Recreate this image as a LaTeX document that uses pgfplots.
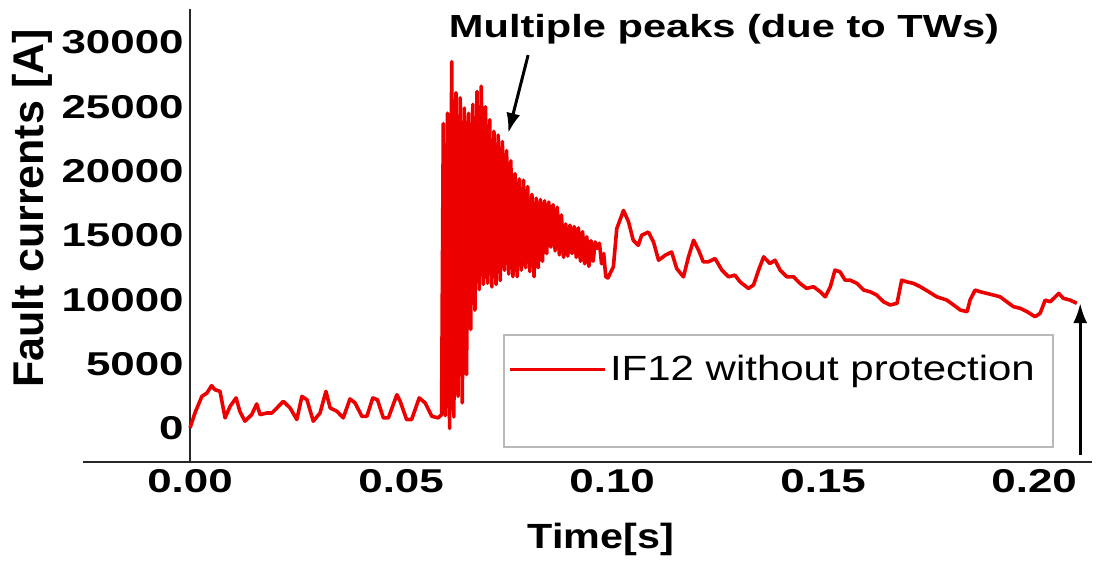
\documentclass[border=0pt]{standalone}
\usepackage{fontspec}
\setmainfont{Liberation Sans}
\usepackage{graphicx}
\usepackage{pgfplots}
\pgfplotsset{compat=1.18}
\usetikzlibrary{arrows.meta}
\definecolor{faultred}{RGB}{236,0,0}
\definecolor{boxgray}{RGB}{185,185,185}
\definecolor{axisgray}{RGB}{40,40,40}
% the source figure is stretched sideways, so the text is too
\newcommand{\tl}[1]{\scalebox{1.33}[1]{#1}}

\begin{document}
\begin{tikzpicture}
\begin{axis}[
    at={(0,0)}, anchor=south west,
    scale only axis, width=504.5pt, height=226.5pt,
    xmin=-0.02536, xmax=0.2137, ymin=-2600, ymax=32600,
    clip=false,
    axis x line=bottom, axis y line=center,
    x axis line style={-}, y axis line style={-},
    axis line style={axisgray, line width=0.8pt},
    hide obscured x ticks=false, hide obscured y ticks=false,
    major tick length=0pt,
    xtick={0,0.05,0.10,0.15,0.20},
    xticklabels={\tl{0.00},\tl{0.05},\tl{0.10},\tl{0.15},\tl{0.20}},
    ytick={0,5000,10000,15000,20000,25000,30000},
    yticklabels={\tl{0},\tl{5000},\tl{10000},\tl{15000},\tl{20000},\tl{25000},\tl{30000}},
    tick label style={font=\fontsize{16.5}{18}\selectfont\bfseries},
    xticklabel style={anchor=north, inner sep=0pt, yshift=-3.5pt},
    yticklabel style={anchor=east, inner sep=0pt, xshift=-3pt},
    xlabel={\scalebox{1.18}[1]{Time[s]}},
    ylabel={Fault currents [A]},
    xlabel style={at={(axis description cs:0.5134,-0.172)}, anchor=center,
        font=\fontsize{17.5}{20}\selectfont\bfseries},
    ylabel style={at={(axis description cs:-0.0505,0.560)}, anchor=center, rotate=90,
        font=\fontsize{21.5}{24}\selectfont\bfseries},
    legend style={at={(axis description cs:0.4212,0.2053)}, anchor=west,
        draw=none, fill=none, inner sep=0pt, outer sep=0pt,
        font=\fontsize{17.5}{20}\selectfont},
    legend cell align=left,
    legend image code/.code={\draw[#1, line width=1.5pt] (0pt,0pt) -- (47.5pt,0pt);},
]
% legend frame, larger than its one entry
\draw[boxgray, line width=0.6pt] (axis description cs:0.4172,0.2804) rectangle (axis description cs:0.9613,0.0331);

\addplot[faultred, line width=1.8pt, line join=round] table {
t v
0.0000 50
0.0012 1240
0.0028 2500
0.0040 2760
0.0051 3330
0.0059 3020
0.0071 2890
0.0083 830
0.0095 1730
0.0109 2380
0.0118 1340
0.0130 570
0.0146 1080
0.0158 1910
0.0166 1080
0.0182 1210
0.0194 1210
0.0221 2110
0.0237 1600
0.0253 700
0.0265 2500
0.0277 2240
0.0292 570
0.0308 1210
0.0322 2890
0.0332 1600
0.0348 1340
0.0363 830
0.0379 2300
0.0391 1990
0.0407 950
0.0419 950
0.0433 2380
0.0444 2240
0.0458 830
0.0470 830
0.0490 2630
0.0498 2110
0.0513 700
0.0525 700
0.0543 2380
0.0557 1990
0.0573 950
0.0588 830
0.0596 1080
0.0600 23700
0.0605 1000
0.0610 24500
0.0615 0
0.0620 28500
0.0625 900
0.0630 26100
0.0635 2500
0.0640 25700
0.0645 2000
0.0650 24900
0.0655 4200
0.0660 24500
0.0665 7700
0.0670 25200
0.0675 9200
0.0680 26200
0.0685 10800
0.0690 26600
0.0695 11200
0.0700 25000
0.0705 11300
0.0710 24000
0.0715 11000
0.0720 23100
0.0725 11200
0.0730 22800
0.0735 11500
0.0740 22300
0.0745 12300
0.0750 21600
0.0755 12000
0.0760 20800
0.0765 11800
0.0770 19800
0.0775 11800
0.0780 19400
0.0785 12300
0.0790 19300
0.0795 12500
0.0800 18800
0.0805 12200
0.0810 18200
0.0815 11800
0.0820 17900
0.0825 12500
0.0830 17800
0.0835 13000
0.0840 17700
0.0845 13600
0.0850 17600
0.0855 14100
0.0860 17400
0.0865 13800
0.0870 17200
0.0875 13500
0.0880 16600
0.0885 13300
0.0890 15900
0.0895 13400
0.0900 15800
0.0905 13600
0.0910 15700
0.0915 13300
0.0920 15600
0.0925 13000
0.0930 15300
0.0935 12800
0.0940 14900
0.0945 12600
0.0950 14600
0.0955 13000
0.0960 14500
0.0965 14000
0.0970 14400
0.0975 12800
0.0980 13600
0.0985 11800
0.0990 11700
0.1003 12560
0.1011 15530
0.1027 16950
0.1039 16050
0.1050 14630
0.1062 14240
0.1070 15020
0.1086 15270
0.1098 14500
0.1110 13080
0.1126 13470
0.1141 13720
0.1153 12430
0.1169 11790
0.1181 13340
0.1193 14630
0.1205 13850
0.1216 12950
0.1228 12950
0.1244 13210
0.1260 12310
0.1276 11790
0.1291 11920
0.1303 11400
0.1323 10890
0.1335 11150
0.1347 12310
0.1359 13340
0.1374 12820
0.1386 13080
0.1398 12310
0.1414 11790
0.1430 11790
0.1445 11280
0.1461 10890
0.1477 11020
0.1493 10630
0.1505 10240
0.1517 11020
0.1528 12310
0.1540 12180
0.1552 11530
0.1564 11530
0.1580 11280
0.1596 10760
0.1611 10630
0.1627 10370
0.1643 9850
0.1659 9600
0.1675 9730
0.1686 11530
0.1698 11400
0.1714 11280
0.1730 11020
0.1750 10630
0.1769 10240
0.1793 9980
0.1809 9600
0.1825 9210
0.1841 9080
0.1848 9980
0.1860 10760
0.1872 10630
0.1888 10500
0.1904 10370
0.1919 10240
0.1935 9850
0.1951 9470
0.1967 9340
0.1983 9080
0.2002 8690
0.2014 8950
0.2026 9980
0.2038 9850
0.2058 10500
0.2069 10120
0.2085 9980
0.2101 9730
};
\addlegendentry{\scalebox{1.20}[1]{IF12 without protection}}

% annotations
\node[anchor=base, font=\fontsize{16}{18}\selectfont\bfseries] at (axis cs:0.1265,30420)
    {\scalebox{1.30}[1]{Multiple peaks (due to TWs)}};
\draw[-{Latex[length=10pt,width=7pt]}, line width=1.5pt] (axis cs:0.0801,29020) -- (axis cs:0.0754,22960);
\draw[-{Latex[length=10pt,width=7pt]}, line width=1.5pt] (axis cs:0.2109,-2060) -- (axis cs:0.2109,9750);
\end{axis}
\pgfresetboundingbox
\path[use as bounding box] (-41.5pt,-50.5pt) rectangle (506.5pt,231pt);
\end{tikzpicture}
\end{document}
